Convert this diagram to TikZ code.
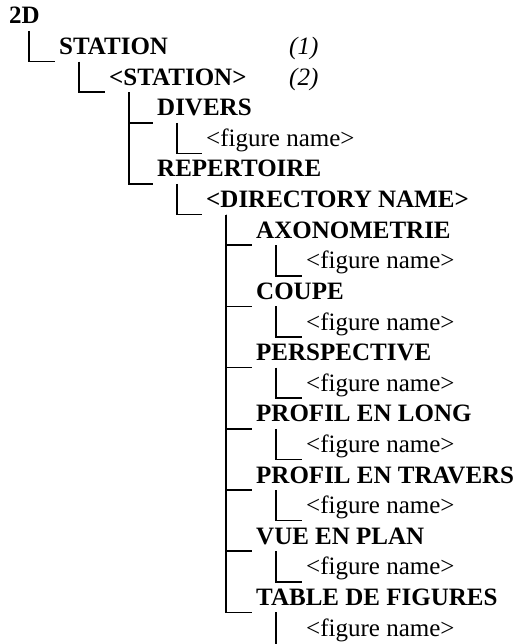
\documentclass[tikz,border=0pt]{standalone}
\usepackage{fontspec}
\setmainfont{Liberation Serif}
\usetikzlibrary{calc}
% L-shaped link from a parent entry down to one of its children
\newcommand\treelink[2]{%
  \draw[branch] ($(#1.base west)+(20,7)$) |- ($(#2.base west)+(-4,7)$);}
\begin{document}
\begin{tikzpicture}[x=1pt,y=-1pt,
  every node/.style={inner sep=0pt, anchor=base west,
    font=\fontsize{25}{29}\selectfont},
  head/.style={font=\fontsize{25}{29}\selectfont\bfseries},
  leaf/.style={},
  note/.style={font=\fontsize{25}{29}\selectfont\itshape},
  branch/.style={line width=1.6pt}]
\useasboundingbox (0,0) rectangle (517,644);

% rows: baseline = 24 + 30.6*i
\node[head] (root)  at (9,24)      {2D};
\node[head] (sta)   at (59,54.6)   {STATION};
\node[note] (n1)    at (289,54.6)  {(1)};
\node[head] (stn)   at (109,85.2)  {<STATION>};
\node[note] (n2)    at (289,85.2)  {(2)};
\node[head] (div)   at (157,115.8) {DIVERS};
\node[leaf] (divf)  at (206,146.4) {<figure name>};
\node[head] (rep)   at (157,177)   {REPERTOIRE};
\node[head] (dir)   at (206,207.6) {<DIRECTORY NAME>};
\node[head] (axo)   at (256,238.2) {AXONOMETRIE};
\node[leaf] (axof)  at (306,268.8) {<figure name>};
\node[head] (cou)   at (256,299.4) {COUPE};
\node[leaf] (couf)  at (306,330)   {<figure name>};
\node[head] (per)   at (256,360.6) {PERSPECTIVE};
\node[leaf] (perf)  at (306,391.2) {<figure name>};
\node[head] (pl)    at (256,421.8) {PROFIL EN LONG};
\node[leaf] (plf)   at (306,452.4) {<figure name>};
\node[head] (pt)    at (256,483)   {PROFIL EN TRAVERS};
\node[leaf] (ptf)   at (306,513.6) {<figure name>};
\node[head] (vue)   at (256,544.2) {VUE EN PLAN};
\node[leaf] (vuef)  at (306,574.8) {<figure name>};
\node[head] (tab)   at (256,605.4) {TABLE DE FIGURES};
\node[leaf] (tabf)  at (306,636)   {<figure name>};
\coordinate (tabend) at (276,644);

\treelink{root}{sta}
\treelink{sta}{stn}
\treelink{stn}{div}
\treelink{stn}{rep}
\treelink{div}{divf}
\treelink{rep}{dir}
\treelink{dir}{axo}
\treelink{dir}{cou}
\treelink{dir}{per}
\treelink{dir}{pl}
\treelink{dir}{pt}
\treelink{dir}{vue}
\treelink{dir}{tab}
\treelink{axo}{axof}
\treelink{cou}{couf}
\treelink{per}{perf}
\treelink{pl}{plf}
\treelink{pt}{ptf}
\treelink{vue}{vuef}
\draw[branch] ($(tab.base west)+(20,7)$) -- (tabend);
\end{tikzpicture}
\end{document}
